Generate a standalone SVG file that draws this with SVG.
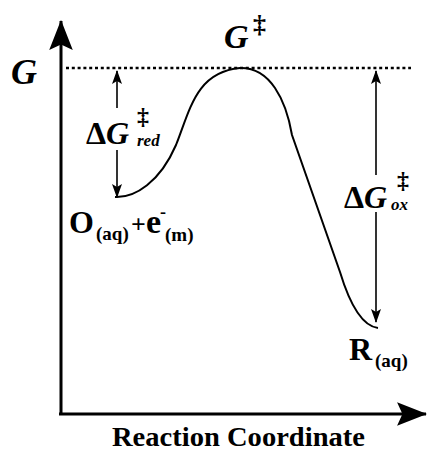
<svg xmlns="http://www.w3.org/2000/svg" width="428" height="452" viewBox="0 0 428 452">
<style>
text{font-family:"Liberation Serif","DejaVu Serif","Times New Roman",serif;font-weight:bold;fill:#000}
.i{font-style:italic}
.ax{stroke:#000;stroke-width:3;fill:none}
.thin{stroke:#000;stroke-width:1.6;fill:none}
.dot{stroke:#000;stroke-width:2.6;fill:none;stroke-dasharray:3 2.8}
.curve{stroke:#000;stroke-width:2;fill:none}
</style>
<defs>
<marker id="big" markerUnits="userSpaceOnUse" markerWidth="30" markerHeight="24" viewBox="0 0 28 22" refX="27" refY="11" orient="auto">
<path d="M0,0 L28,11 L0,22 L5,11 Z" fill="#000"/>
</marker>
<marker id="small" markerUnits="userSpaceOnUse" markerWidth="14" markerHeight="10" viewBox="0 0 14 10" refX="13" refY="5" orient="auto">
<path d="M0,0 L14,5 L0,10 L3,5 Z" fill="#000"/>
</marker>
</defs>
<g id="connectors">
<line class="ax" x1="61" y1="415" x2="61" y2="21" marker-end="url(#big)"/>
<line class="ax" x1="59" y1="414" x2="426" y2="414" marker-end="url(#big)"/>
<line class="dot" x1="66" y1="68" x2="411" y2="68"/>
<line class="thin" x1="117" y1="108" x2="117" y2="71" marker-end="url(#small)"/>
<line class="thin" x1="117" y1="150" x2="117" y2="197" marker-end="url(#small)"/>
<line class="thin" x1="376" y1="175" x2="376" y2="71" marker-end="url(#small)"/>
<line class="thin" x1="376" y1="212" x2="376" y2="322" marker-end="url(#small)"/>
</g>
<g id="curve">
<path class="curve" d="M115,197 C135,198 160,182 176,145 C190,110 196,72 240,68 C270,67 286,100 292,135 L340,272 C350,305 362,326 378,328"/>
</g>
<g id="label-G">
<text class="i" x="11" y="84" font-size="36">G</text>
</g>
<g id="label-Gts">
<text class="i" x="224" y="48" font-size="34">G</text>
<text x="253" y="33" font-size="26">‡</text>
</g>
<g id="label-dGred">
<text x="86" y="144" font-size="32">Δ</text>
<text class="i" x="106" y="144" font-size="32">G</text>
<text x="137" y="124" font-size="24">‡</text>
<text class="i" x="137" y="146" font-size="17">red</text>
</g>
<g id="label-dGox">
<text x="344" y="208" font-size="32">Δ</text>
<text class="i" x="364" y="208" font-size="32">G</text>
<text x="397" y="188" font-size="24">‡</text>
<text class="i" x="391" y="210" font-size="17">ox</text>
</g>
<g id="node-O">
<text x="69" y="233" font-size="32">O</text>
<text x="96" y="240" font-size="19">(aq)</text>
<text x="131" y="233" font-size="26">+</text>
<text x="146" y="233" font-size="34">e</text>
<text x="160" y="218" font-size="18">-</text>
<text x="165" y="241" font-size="19">(m)</text>
</g>
<g id="node-R">
<text x="349" y="360" font-size="32">R</text>
<text x="375" y="367" font-size="19">(aq)</text>
</g>
<g id="label-x">
<text x="112" y="446" font-size="28" textLength="253" lengthAdjust="spacingAndGlyphs">Reaction Coordinate</text>
</g>
</svg>
